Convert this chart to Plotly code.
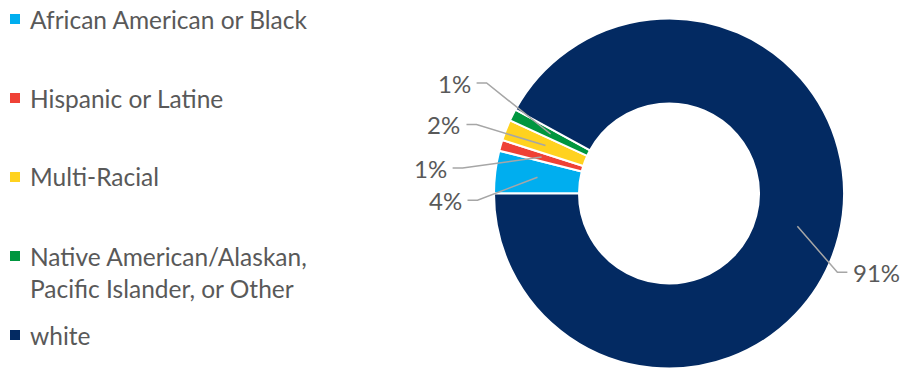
import math
import plotly.graph_objects as go

# Data
categories = [
    "African American or Black",
    "Hispanic or Latine",
    "Multi-Racial",
    "Native American/Alaskan,<br>Pacific Islander, or Other",
    "white",
]
shares = [3.9, 1.0, 1.9, 1.1, 91.3]
colors = ["#00AEEF", "#EF4136", "#FFD21F", "#00963F", "#032A62"]

# Layout constants (pixels)
W, H = 902, 372
CX, CY = 669, 193.5          # donut centre
R_OUT, R_IN = 175, 90        # outer radius / hole radius
TEXT_COLOR = "#595959"
FONT = "Lato"
LEGEND_FONT_SIZE = 24.5
LABEL_FONT_SIZE = 24

# elbow offsets of the leader lines, relative to the point inside each slice
label_offsets = [(-60, 23), (-79, 11), (-69, -21), (-64, -51), (40, 46)]

LEGEND_X = 15
LEGEND_TOP = 19
LEGEND_STEP = 79


def px(x):
    return x / W


def py(y):
    return 1 - y / H


fig = go.Figure()

fig.add_trace(go.Pie(
    labels=categories,
    values=shares,
    sort=False,
    direction="clockwise",
    rotation=-90,
    hole=R_IN / R_OUT,
    marker=dict(colors=colors, line=dict(color="white", width=2)),
    textinfo="none",
    hoverinfo="label+value",
    showlegend=False,
    domain=dict(x=[px(CX - R_OUT), px(CX + R_OUT)],
                y=[py(CY + R_OUT), py(CY - R_OUT)]),
))

shapes = []
annotations = []

# Leader lines and value labels
total = sum(shares)
cum = 0.0
r_mid = (R_OUT + R_IN) / 2
for v, (dx, dy) in zip(shares, label_offsets):
    ang = math.radians(-90 + 360 * (cum + v / 2) / total)
    cum += v
    tx = CX + r_mid * math.sin(ang)
    ty = CY - r_mid * math.cos(ang)
    ex, ey = tx + dx, ty + dy
    side = -1 if dx < 0 else 1
    hx = ex + side * 10
    shapes.append(dict(
        type="path", xref="paper", yref="paper", layer="above",
        path=f"M {px(tx)},{py(ty)} L {px(ex)},{py(ey)} L {px(hx)},{py(ey)}",
        line=dict(color="#A6A6A6", width=1.5),
    ))
    annotations.append(dict(
        xref="paper", yref="paper", x=px(hx + side * 4), y=py(ey),
        xanchor="right" if side < 0 else "left", yanchor="middle",
        text=f"{v:.0f}%", showarrow=False,
        font=dict(family=FONT, size=LABEL_FONT_SIZE, color=TEXT_COLOR),
    ))

# Legend: square swatches with category names
for i, (name, c) in enumerate(zip(categories, colors)):
    yc = LEGEND_TOP + i * LEGEND_STEP
    shapes.append(dict(
        type="rect", xref="paper", yref="paper",
        x0=px(LEGEND_X - 5), x1=px(LEGEND_X + 5),
        y0=py(yc + 5), y1=py(yc - 5),
        fillcolor=c, line=dict(width=0),
    ))
    annotations.append(dict(
        xref="paper", yref="paper", x=px(28), y=py(yc - 16.5),
        xanchor="left", yanchor="top", align="left",
        text=name, showarrow=False,
        font=dict(family=FONT, size=LEGEND_FONT_SIZE, color=TEXT_COLOR),
    ))

fig.update_layout(
    width=W, height=H,
    margin=dict(l=0, r=0, t=0, b=0),
    paper_bgcolor="white",
    plot_bgcolor="white",
    shapes=shapes,
    annotations=annotations,
    showlegend=False,
)

fig.write_html("out.html")
